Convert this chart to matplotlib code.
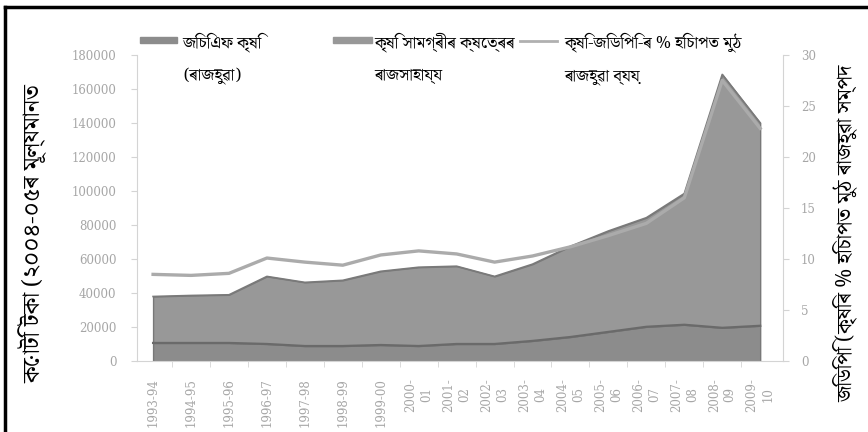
import matplotlib
matplotlib.use("Agg")
import matplotlib.pyplot as plt
from matplotlib.lines import Line2D

bn_family = ["Noto Serif Bengali", "DejaVu Sans"]

years = ["1993-94", "1994-95", "1995-96", "1996-97", "1997-98", "1998-99",
         "1999-00", "2000-\n01", "2001-\n02", "2002-\n03", "2003-\n04",
         "2004-\n05", "2005-\n06", "2006-\n07", "2007-\n08", "2008-\n09",
         "2009-\n10"]
gcf = [10700, 10700, 10700, 10100, 8900, 8900, 9500, 8900, 10100, 10100,
       11900, 14200, 17200, 20200, 21400, 19600, 20800]
total = [38000, 38600, 39000, 49800, 46300, 47500, 52800, 55200, 55800, 49800,
         57000, 67500, 76500, 84300, 98500, 168500, 140000]
subsidy = [t - g for t, g in zip(total, gcf)]
pct_gdp = [8.5, 8.4, 8.6, 10.1, 9.7, 9.4, 10.4, 10.8, 10.5, 9.7, 10.3,
           11.2, 12.3, 13.5, 16.0, 27.5, 22.8]

fig = plt.figure(figsize=(8.68, 4.32), dpi=100)
ax = fig.add_axes([0.158, 0.164, 0.744, 0.709])
x = list(range(len(years)))

ax.stackplot(x, gcf, subsidy, colors=["#8c8c8c", "#989898"],
             edgecolor="#787878", linewidth=1.0)
ax.plot(x, gcf, color="#6a6a6a", lw=1.6)
ax.plot(x, total, color="#7a7a7a", lw=1.2)
ax.set_xlim(-0.42, 16.6)
ax.set_ylim(0, 180000)
ax.set_yticks(range(0, 180001, 20000))
ax.set_xticks(x)
ax.set_xticklabels(years, rotation=90, fontsize=8.5, color="#a6a6a6",
                   family="DejaVu Serif", linespacing=1.3)
ax.set_xticks([i + 0.5 for i in x[:-1]], minor=True)
ax.tick_params(axis="x", which="major", length=0, pad=12)
ax.tick_params(axis="x", which="minor", length=4, color="#d4d4d4")
ax.tick_params(axis="y", labelsize=8.5, labelcolor="#a6a6a6", color="#d4d4d4",
               length=4, pad=11)
for lbl in ax.get_yticklabels():
    lbl.set_family("DejaVu Serif")
for s in ["top", "right"]:
    ax.spines[s].set_visible(False)
for s in ["left", "bottom"]:
    ax.spines[s].set_color("#d4d4d4")

ax2 = ax.twinx()
ax2.plot(x, pct_gdp, color="#ababab", lw=2.4)
ax2.set_ylim(0, 30)
ax2.set_yticks(range(0, 31, 5))
ax2.tick_params(axis="y", labelsize=8.5, labelcolor="#a6a6a6", color="#d4d4d4",
                length=4, pad=9)
for lbl in ax2.get_yticklabels():
    lbl.set_family("DejaVu Serif")
for s in ["top", "left", "bottom"]:
    ax2.spines[s].set_visible(False)
ax2.spines["right"].set_color("#d4d4d4")

# legend drawn by hand, two lines per entry
fig.patches.append(plt.Rectangle((140 / 868, 1 - 43 / 432), 37 / 868, 6 / 432,
                                 transform=fig.transFigure, color="#8c8c8c"))
fig.patches.append(plt.Rectangle((333 / 868, 1 - 43 / 432), 39 / 868, 6 / 432,
                                 transform=fig.transFigure, color="#989898"))
fig.add_artist(Line2D([520 / 868, 557 / 868], [1 - 41 / 432, 1 - 41 / 432],
                      color="#b0b0b0", lw=2))
leg_txt = [(183, "জিচিএফ কৃষি\n(ৰাজহুৱা)"),
           (375, "কৃষি সামগ্ৰীৰ ক্ষেত্ৰৰ\nৰাজসাহায্য"),
           (565, "কৃষি-জিডিপি-ৰ % হিচাপত মুঠ\nৰাজহুৱা ব্যয়")]
for px, t in leg_txt:
    fig.text(px / 868, 1 - 32 / 432, t, ha="left", va="top", fontsize=12,
             family=bn_family, linespacing=2.2)

fig.text(33 / 868, 0.46, "কোটি টকা (২০০৪-০৫ৰ মূল্যমানত", rotation=90,
         ha="center", va="center", fontsize=17, family=bn_family)
fig.text(845 / 868, 0.46, "জিডিপি (কৃষিৰ % হিচাপত মুঠ ৰাজহুৱা সম্পদ",
         rotation=90, ha="center", va="center", fontsize=15, family=bn_family)

# frame lines of the scanned page
fig.add_artist(Line2D([5 / 868, 5 / 868], [0, 1 - 7 / 432], color="black", lw=2.5))
fig.add_artist(Line2D([5 / 868, 1], [1 - 7 / 432, 1 - 7 / 432], color="black", lw=2.5))

fig.savefig("out.png", dpi=100)
